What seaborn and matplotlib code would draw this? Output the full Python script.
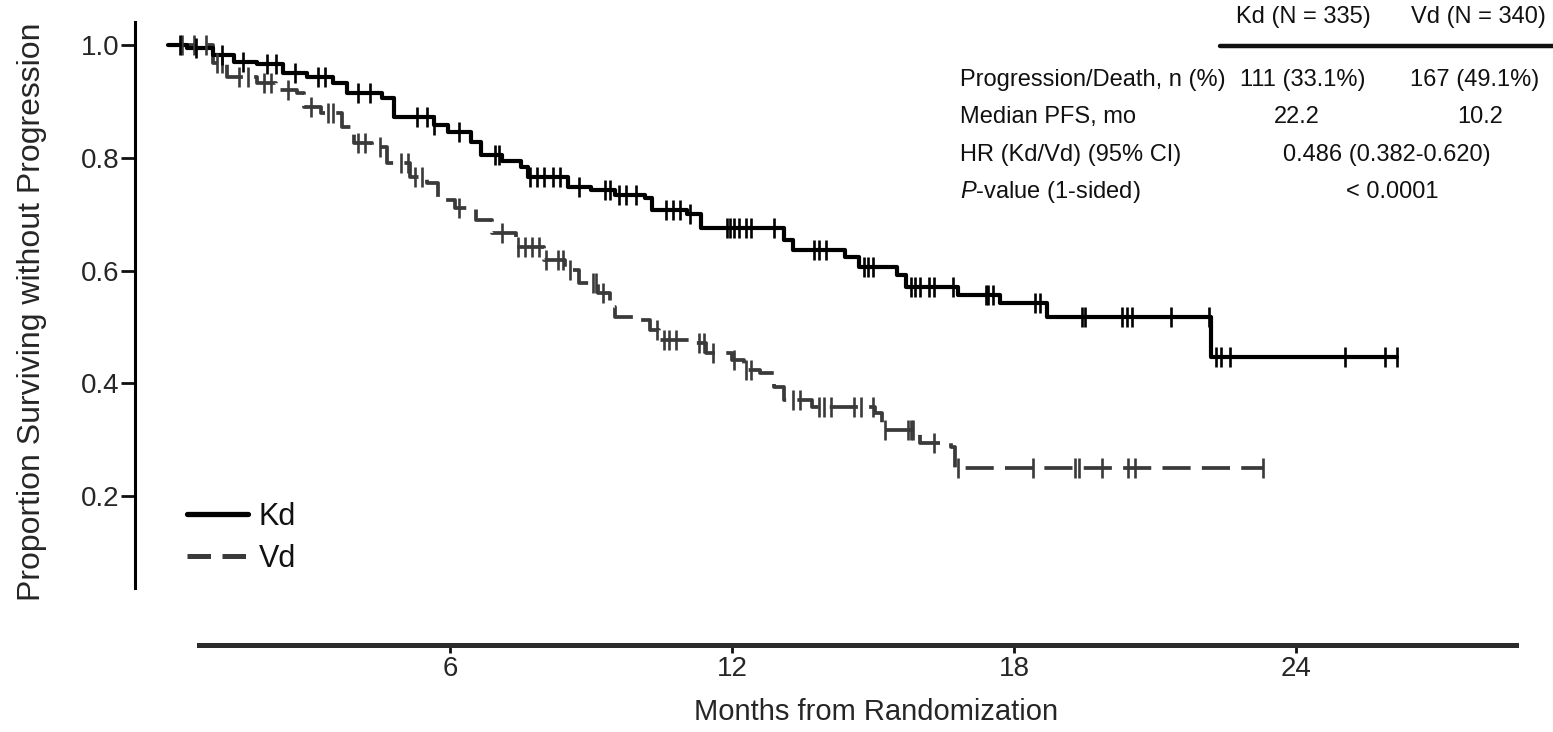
import numpy as np
import pandas as pd
import matplotlib
matplotlib.use("Agg")
import matplotlib.pyplot as plt
import seaborn as sns

# ---- Kaplan-Meier estimates (months from randomization, proportion progression-free)
kd_times = [0, 0.40, 0.95, 1.40, 1.90, 2.45, 2.95, 3.50, 3.80, 4.55, 4.80, 5.65, 5.95,
            6.45, 6.65, 7.10, 7.50, 7.65, 8.50, 9.00, 9.50, 10.15, 10.30, 11.05, 11.35,
            13.10, 13.30, 14.40, 14.70, 15.50, 15.70, 16.80, 17.70, 18.70, 22.20]
kd_surv = [1.000, 0.995, 0.982, 0.970, 0.966, 0.951, 0.943, 0.932, 0.915, 0.906, 0.872,
           0.858, 0.846, 0.828, 0.805, 0.795, 0.783, 0.765, 0.748, 0.742, 0.734, 0.729,
           0.708, 0.700, 0.675, 0.654, 0.636, 0.624, 0.606, 0.592, 0.570, 0.556, 0.542,
           0.518, 0.447]
kd_censored = [0.25, 0.6, 1.15, 1.6, 2.1, 2.3, 2.7, 3.2, 3.35, 4.05, 4.3, 5.3, 5.5, 5.65,
               6.2, 6.95, 7.05, 7.7, 7.85, 8.0, 8.2, 8.35, 8.75, 9.3, 9.4, 9.6, 9.75, 9.95,
               10.6, 10.75, 10.9, 11.1, 11.9, 11.95, 12.05, 12.15, 12.3, 12.4, 12.9, 13.75,
               13.85, 14.0, 14.8, 14.9, 15.0, 15.8, 15.9, 16.0, 16.2, 16.3, 16.7, 17.4,
               17.45, 17.55, 18.45, 18.55, 19.45, 19.5, 20.3, 20.4, 20.5, 21.35, 22.15,
               22.3, 22.4, 22.6, 25.05, 25.9, 26.15]

vd_times = [0, 0.95, 1.25, 1.90, 2.30, 2.75, 2.90, 3.25, 3.70, 3.95, 4.35, 4.65, 5.15,
            5.50, 5.75, 6.10, 6.55, 6.90, 7.40, 8.00, 8.45, 8.75, 9.15, 9.40, 9.50, 10.00,
            10.25, 10.45, 11.15, 11.45, 12.00, 12.25, 12.60, 12.90, 13.10, 13.70, 15.05,
            15.20, 16.00, 16.65, 16.75]
vd_surv = [1.000, 0.968, 0.943, 0.933, 0.920, 0.915, 0.890, 0.880, 0.855, 0.826, 0.819,
           0.790, 0.766, 0.755, 0.725, 0.710, 0.690, 0.667, 0.642, 0.619, 0.601, 0.578,
           0.560, 0.535, 0.517, 0.512, 0.495, 0.477, 0.472, 0.454, 0.441, 0.424, 0.418,
           0.393, 0.370, 0.358, 0.347, 0.317, 0.294, 0.287, 0.250]
vd_censored = [0.3, 0.55, 0.8, 1.05, 1.15, 1.5, 1.7, 2.05, 2.2, 2.55, 3.05, 3.4, 3.5, 4.05,
               4.2, 4.5, 4.95, 5.1, 5.25, 5.4, 6.2, 7.1, 7.45, 7.6, 7.75, 7.9, 8.05, 8.3,
               8.4, 8.55, 9.05, 9.1, 9.25, 10.4, 10.55, 10.65, 10.8, 11.3, 11.4, 11.6,
               12.05, 12.3, 12.4, 13.3, 13.45, 13.85, 13.95, 14.1, 14.6, 14.75, 15.0,
               15.25, 15.75, 15.8, 15.85, 16.3, 16.8, 18.4, 19.3, 19.38, 19.87, 20.43,
               20.57, 23.3]

arm_labels = ["Kd", "Vd"]
x_ticks = [6, 12, 18, 24]
y_ticks = [0.2, 0.4, 0.6, 0.8, 1.0]
y_tick_labels = ["0.2", "0.4", "0.6", "0.8", "1.0"]

table_header = ["Kd (N = 335)", "Vd (N = 340)"]
table_row_labels = ["Progression/Death, n (%)", "Median PFS, mo",
                    "HR (Kd/Vd) (95% CI)", r"$\mathit{P}$-value (1-sided)"]
table_kd = ["111 (33.1%)", "22.2"]
table_vd = ["167 (49.1%)", "10.2"]
table_joint = ["0.486 (0.382-0.620)", "< 0.0001"]

# ---- style
sns.set_style("ticks")
plt.rcParams["font.family"] = ["Liberation Sans", "DejaVu Sans"]
plt.rcParams["mathtext.fontset"] = "custom"
plt.rcParams["mathtext.rm"] = "Liberation Sans"
plt.rcParams["mathtext.it"] = "Liberation Sans:italic"
plt.rcParams["text.color"] = "#111111"

W, H = 1553, 732
fig = plt.figure(figsize=(W / 100, H / 100), dpi=100)
fig.patch.set_facecolor("white")


def fx(px):
    return px / W


def fy(py):
    return 1 - py / H


ax_l, ax_r, ax_t, ax_b = 135, 1540, 15, 645
ax = fig.add_axes([fx(ax_l), fy(ax_b), (ax_r - ax_l) / W, (ax_b - ax_t) / H])
ax.set_facecolor("white")


def step_frame(times, surv, censored):
    t = list(times) + [max(censored)]
    s = list(surv) + [surv[-1]]
    return pd.DataFrame({"month": t, "surv": s})


def surv_at(times, surv, pts):
    idx = np.searchsorted(np.asarray(times), np.asarray(pts), side="right") - 1
    return np.asarray(surv)[idx]


kd_df = step_frame(kd_times, kd_surv, kd_censored)
vd_df = step_frame(vd_times, vd_surv, vd_censored)

kd_color = "#000000"
vd_color = "#3a3a3a"

sns.lineplot(data=vd_df, x="month", y="surv", ax=ax, estimator=None, sort=False,
             drawstyle="steps-post", color=vd_color, linewidth=2.7,
             linestyle=(0, (7.5, 3.0)), label="Vd", zorder=2)
sns.lineplot(data=kd_df, x="month", y="surv", ax=ax, estimator=None, sort=False,
             drawstyle="steps-post", color=kd_color, linewidth=3.0,
             label="Kd", zorder=3)

# censoring marks
sns.scatterplot(x=vd_censored, y=surv_at(vd_times, vd_surv, vd_censored), ax=ax,
                marker="|", s=190, linewidth=1.9, color=vd_color, zorder=4, legend=False)
sns.scatterplot(x=kd_censored, y=surv_at(kd_times, kd_surv, kd_censored), ax=ax,
                marker="|", s=190, linewidth=1.9, color=kd_color, zorder=4, legend=False)

# ---- axes
px_per_month = 47.0
x0_px = 168.0
y0_px, px_per_unit = 608.75, 563.75
ax.set_xlim((ax_l - x0_px) / px_per_month, (ax_r - x0_px) / px_per_month)
ax.set_ylim((y0_px - ax_b) / px_per_unit, (y0_px - ax_t) / px_per_unit)

for side in ["top", "right"]:
    ax.spines[side].set_visible(False)
ax.spines["left"].set_linewidth(2.2)
ax.spines["left"].set_color("#000000")
ax.spines["left"].set_bounds(0.037, 1.041)
ax.spines["bottom"].set_linewidth(3.6)
ax.spines["bottom"].set_color("#2b2b2b")
ax.spines["bottom"].set_bounds(0.66, 28.68)

ax.set_xticks(x_ticks)
ax.set_xticklabels([str(v) for v in x_ticks])
ax.set_yticks(y_ticks)
ax.set_yticklabels(y_tick_labels)
ax.tick_params(axis="y", length=10, width=2.0, pad=1, labelsize=20, color="#111111")
ax.tick_params(axis="x", length=6, width=2.0, pad=2, labelsize=20, color="#111111")

ax.set_xlabel("Months from Randomization", fontsize=21, va="top")
ax.xaxis.set_label_coords((876 - ax_l) / (ax_r - ax_l), -(698 - ax_b) / (ax_b - ax_t))
ax.set_ylabel("Proportion Surviving without Progression", fontsize=23, va="center")
ax.yaxis.set_label_coords((32 - ax_l) / (ax_r - ax_l), (ax_b - 312) / (ax_b - ax_t))

# ---- legend
handles, labels = ax.get_legend_handles_labels()
order = [labels.index(a) for a in arm_labels]
leg = ax.legend([handles[i] for i in order], [labels[i] for i in order],
                loc="upper left", bbox_to_anchor=(fx(187), fy(502)),
                bbox_transform=fig.transFigure, frameon=False, fontsize=22,
                handlelength=2.0, handletextpad=0.35, labelspacing=0.38,
                borderpad=0, borderaxespad=0)
leg_lines = leg.get_lines()
leg_lines[0].set_linewidth(3.8)
leg_lines[1].set_linewidth(3.6)
leg_lines[1].set_linestyle((0, (4.7, 2.3)))

# ---- summary table
tfs = 17
fig.text(fx(1303), fy(17), table_header[0], ha="center", va="center", fontsize=tfs)
fig.text(fx(1478), fy(17), table_header[1], ha="center", va="center", fontsize=tfs)
fig.add_artist(plt.Line2D([fx(1220), fx(1553)], [fy(46), fy(46)], color="#111111",
                          linewidth=3.2, transform=fig.transFigure))
row_y = [80, 117, 155, 192]
for ry, lab in zip(row_y, table_row_labels):
    fig.text(fx(960), fy(ry), lab, ha="left", va="center", fontsize=tfs)
fig.text(fx(1303), fy(row_y[0]), table_kd[0], ha="center", va="center", fontsize=tfs)
fig.text(fx(1475), fy(row_y[0]), table_vd[0], ha="center", va="center", fontsize=tfs)
fig.text(fx(1297), fy(row_y[1]), table_kd[1], ha="center", va="center", fontsize=tfs)
fig.text(fx(1480), fy(row_y[1]), table_vd[1], ha="center", va="center", fontsize=tfs)
fig.text(fx(1387), fy(row_y[2]), table_joint[0], ha="center", va="center", fontsize=tfs)
fig.text(fx(1392), fy(row_y[3]), table_joint[1], ha="center", va="center", fontsize=tfs)

fig.savefig("out.png", dpi=100, facecolor="white")
